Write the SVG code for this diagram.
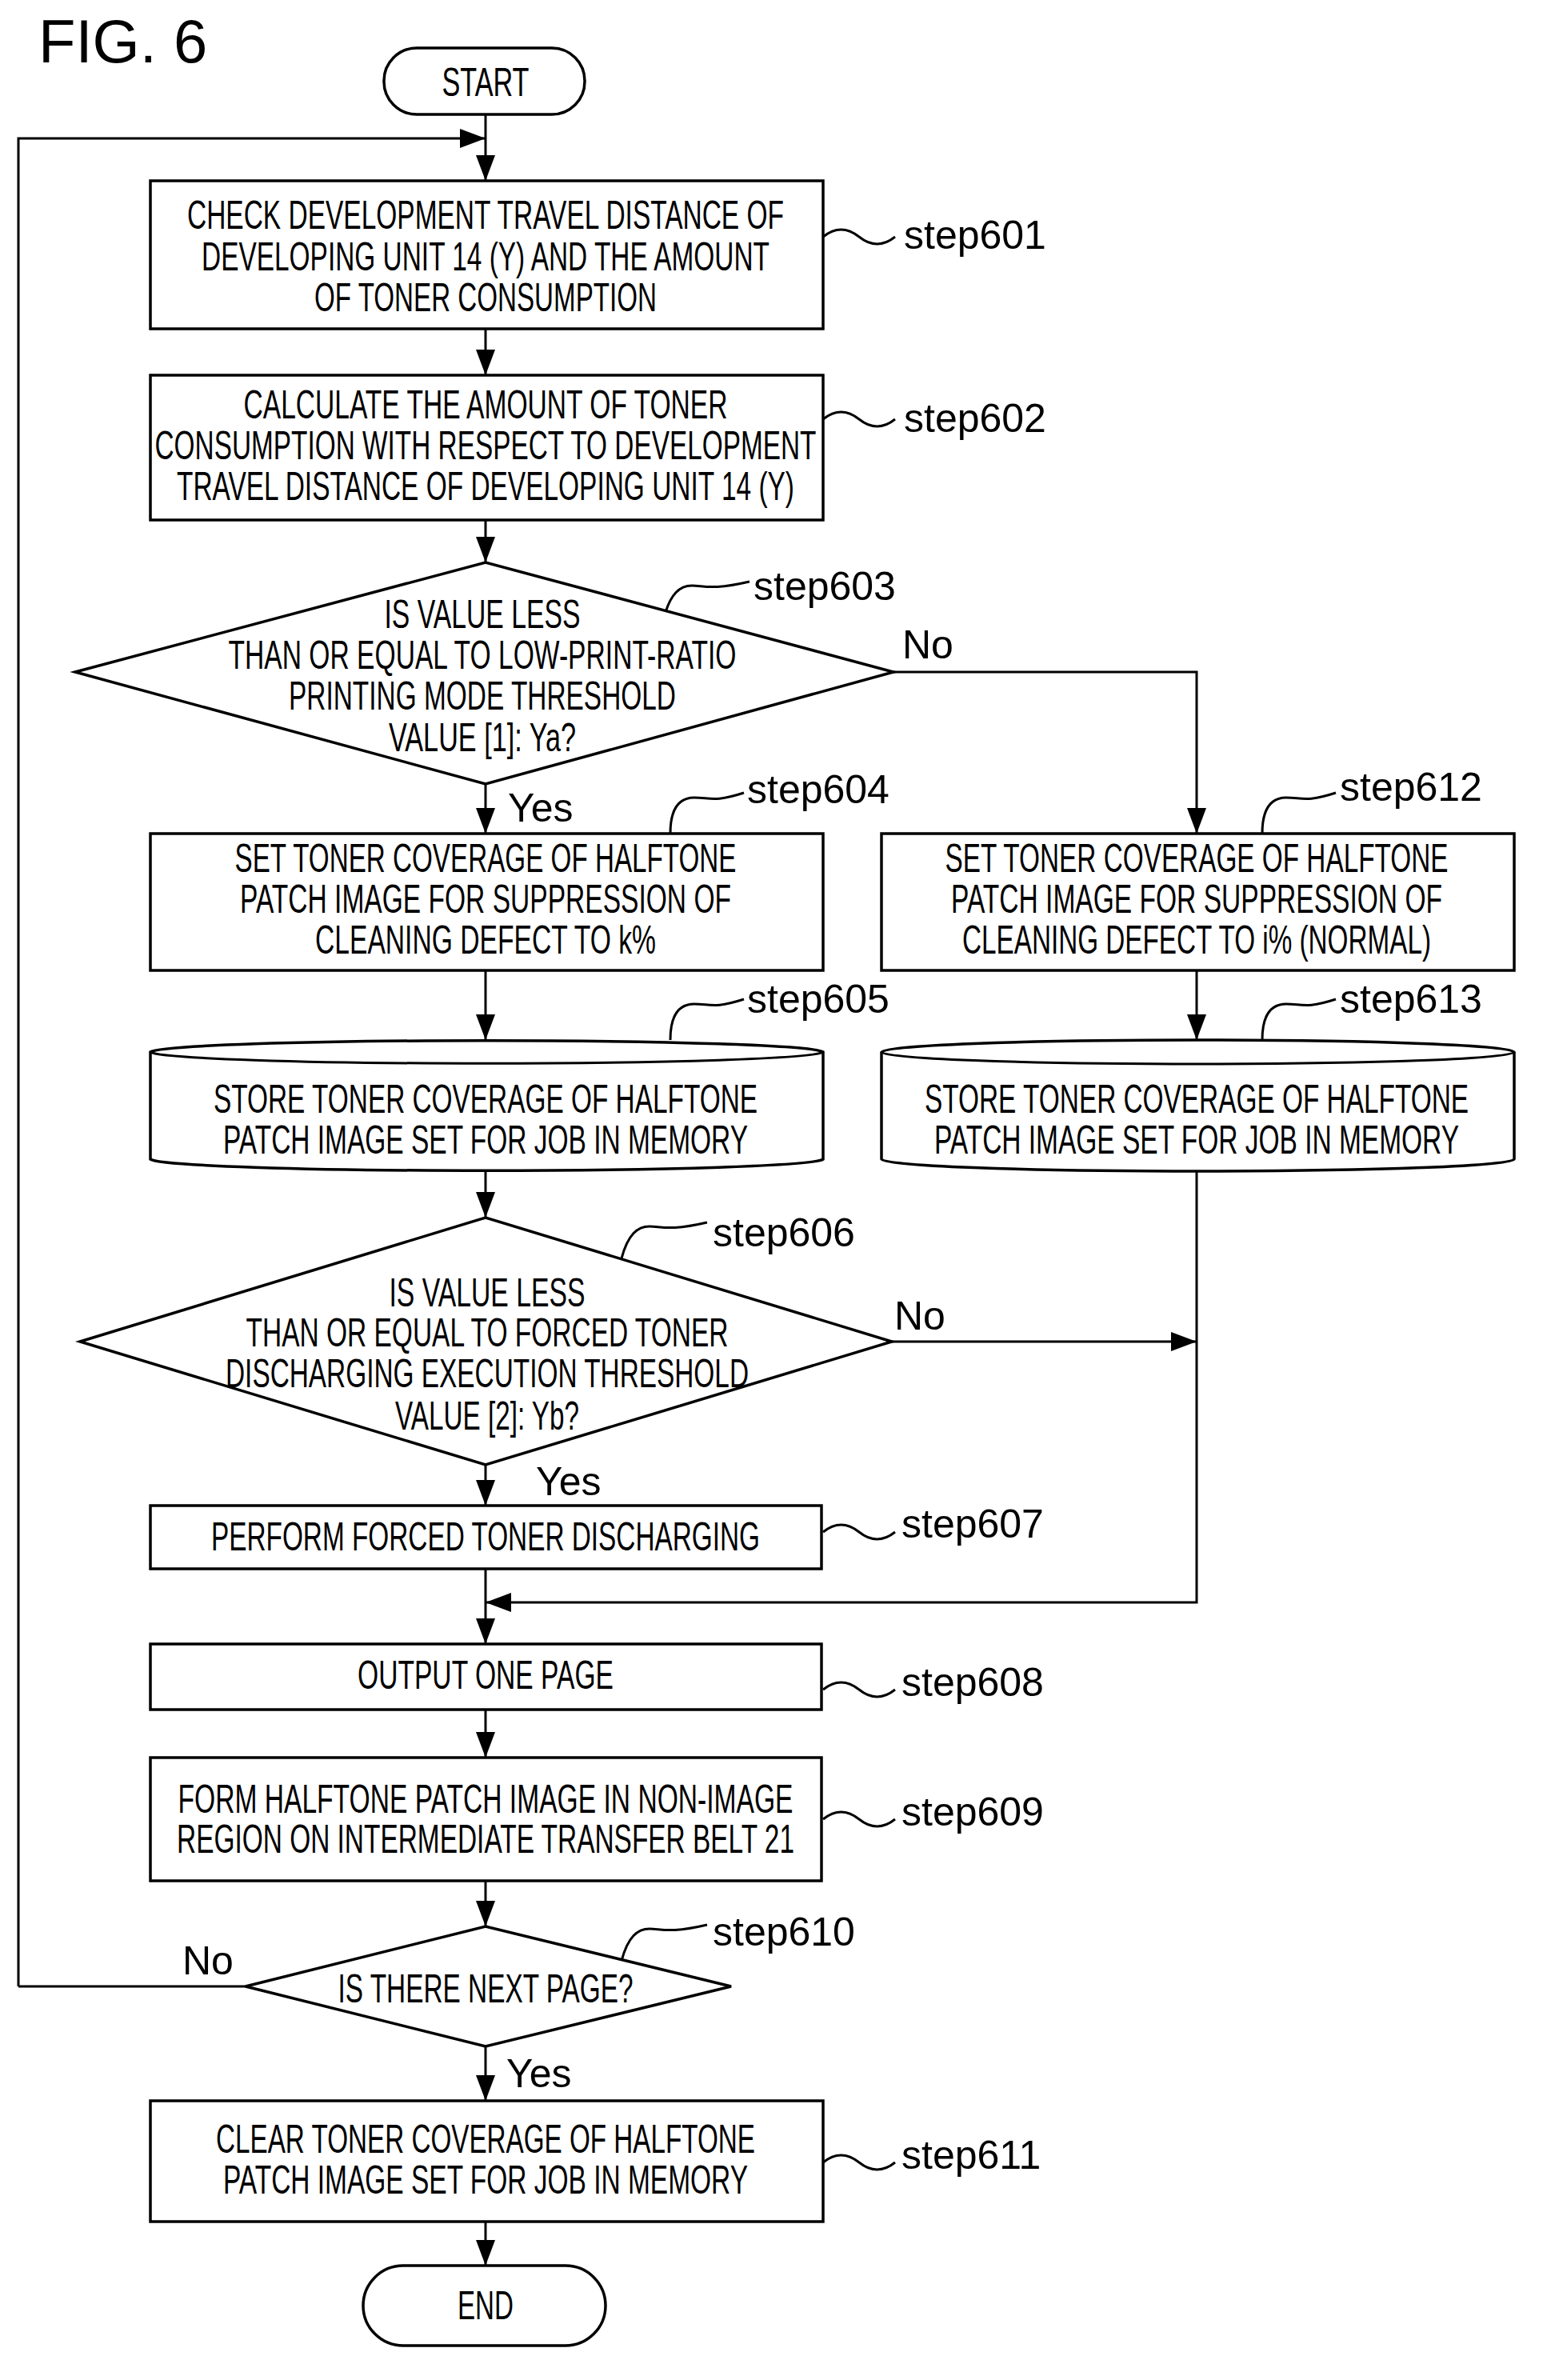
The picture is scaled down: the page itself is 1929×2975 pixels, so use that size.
<svg xmlns="http://www.w3.org/2000/svg" width="1929" height="2975" viewBox="0 0 1929 2975">
<style>
.s{fill:#fff;stroke:#000;stroke-width:3.5}
.c{fill:none;stroke:#000;stroke-width:3}
.t{font-family:"Liberation Sans",Arial,sans-serif;font-size:50px;text-anchor:middle;fill:#000}
.l{font-family:"Liberation Sans",Arial,sans-serif;font-size:50px;fill:#000}
</style>
<defs>
<marker id="a" markerWidth="10" markerHeight="10" refX="10" refY="5" orient="auto" markerUnits="userSpaceOnUse" viewBox="0 0 10 10"><path d="M0,0 L10,5 L0,10 z"/></marker>
<marker id="b" viewBox="0 0 10 10" refX="10" refY="5" markerWidth="32" markerHeight="24" orient="auto" markerUnits="userSpaceOnUse" preserveAspectRatio="none"><path d="M0,0 L10,5 L0,10 z"/></marker>
</defs>
<text x="48" y="78" class="l" style="font-size:76px">FIG. 6</text>
<g id="connectors" class="c">
<path d="M607,143 V226" marker-end="url(#b)"/>
<path d="M23,2483 V173 H607" marker-end="url(#b)"/>
<path d="M607,411 V469" marker-end="url(#b)"/>
<path d="M607,650 V703" marker-end="url(#b)"/>
<path d="M607,980 V1042" marker-end="url(#b)"/>
<path d="M1117,840 H1496 V1042" marker-end="url(#b)"/>
<path d="M607,1213 V1300" marker-end="url(#b)"/>
<path d="M1496,1213 V1300" marker-end="url(#b)"/>
<path d="M607,1464 V1522" marker-end="url(#b)"/>
<path d="M1115,1677 H1496" marker-end="url(#b)"/>
<path d="M1496,1464 V2003 H607" marker-end="url(#b)"/>
<path d="M607,1831 V1882" marker-end="url(#b)"/>
<path d="M607,1961 V2055" marker-end="url(#b)"/>
<path d="M607,2137 V2197" marker-end="url(#b)"/>
<path d="M607,2351 V2408" marker-end="url(#b)"/>
<path d="M307,2483 H23"/>
<path d="M607,2558 V2626" marker-end="url(#b)"/>
<path d="M607,2777 V2832" marker-end="url(#b)"/>
<path d="M1029,296 c15,-12 30,-12 45,0 s30,12 45,0"/>
<path d="M1029,524 c15,-12 30,-12 45,0 s30,12 45,0"/>
<path d="M1029,1915 c15,-12 30,-12 45,0 s30,12 45,0"/>
<path d="M1029,2112 c15,-12 30,-12 45,0 s30,12 45,0"/>
<path d="M1029,2274 c15,-12 30,-12 45,0 s30,12 45,0"/>
<path d="M1029,2703 c15,-12 30,-12 45,0 s30,12 45,0"/>
<path d="M830,772 c8,-30 20,-40 35,-40 s25,6 72,-5"/>
<path d="M838,1042 c0,-30 10,-45 30,-45 s25,6 62,-6"/>
<path d="M1578,1042 c0,-30 10,-45 30,-45 s25,6 62,-6"/>
<path d="M838,1300 c0,-30 10,-45 30,-45 s25,6 62,-6"/>
<path d="M1578,1300 c0,-30 10,-45 30,-45 s25,6 62,-6"/>
<path d="M777,1573 c8,-30 20,-40 35,-40 s25,6 72,-5"/>
<path d="M777,2451 c8,-30 20,-40 35,-40 s25,6 72,-5"/>
</g>
<g class="l">
<text x="1130" y="311">step601</text>
<text x="1130" y="540">step602</text>
<text x="942" y="750">step603</text>
<text x="934" y="1004">step604</text>
<text x="1675" y="1001">step612</text>
<text x="934" y="1266">step605</text>
<text x="1675" y="1266">step613</text>
<text x="891" y="1558">step606</text>
<text x="1127" y="1922">step607</text>
<text x="1127" y="2120">step608</text>
<text x="1127" y="2282">step609</text>
<text x="891" y="2432">step610</text>
<text x="1127" y="2711">step611</text>
<text x="1128" y="823">No</text>
<text x="635" y="1027">Yes</text>
<text x="1118" y="1662">No</text>
<text x="670" y="1869">Yes</text>
<text x="228" y="2468">No</text>
<text x="633" y="2609">Yes</text>
</g>
<g id="start"><rect class="s" x="480" y="60" width="251" height="83" rx="41"/><text class="t" x="607" y="120" textLength="109" lengthAdjust="spacingAndGlyphs">START</text></g>
<g id="step601"><rect class="s" x="188" y="226" width="841" height="185"/>
<text class="t" x="607" y="286" textLength="746" lengthAdjust="spacingAndGlyphs">CHECK DEVELOPMENT TRAVEL DISTANCE OF</text>
<text class="t" x="607" y="338" textLength="710" lengthAdjust="spacingAndGlyphs">DEVELOPING UNIT 14 (Y) AND THE AMOUNT</text>
<text class="t" x="607" y="389" textLength="428" lengthAdjust="spacingAndGlyphs">OF TONER CONSUMPTION</text></g>
<g id="step602"><rect class="s" x="188" y="469" width="841" height="181"/>
<text class="t" x="607" y="523" textLength="605" lengthAdjust="spacingAndGlyphs">CALCULATE THE AMOUNT OF TONER</text>
<text class="t" x="607" y="574" textLength="827" lengthAdjust="spacingAndGlyphs">CONSUMPTION WITH RESPECT TO DEVELOPMENT</text>
<text class="t" x="607" y="625" textLength="772" lengthAdjust="spacingAndGlyphs">TRAVEL DISTANCE OF DEVELOPING UNIT 14 (Y)</text></g>
<g id="step603"><path class="s" d="M94,840 L607,703 L1117,840 L607,980 Z"/>
<text class="t" x="603" y="785" textLength="245" lengthAdjust="spacingAndGlyphs">IS VALUE LESS</text>
<text class="t" x="603" y="836" textLength="635" lengthAdjust="spacingAndGlyphs">THAN OR EQUAL TO LOW-PRINT-RATIO</text>
<text class="t" x="603" y="887" textLength="484" lengthAdjust="spacingAndGlyphs">PRINTING MODE THRESHOLD</text>
<text class="t" x="603" y="939" textLength="234" lengthAdjust="spacingAndGlyphs">VALUE [1]: Ya?</text></g>
<g id="step604"><rect class="s" x="188" y="1042" width="841" height="171"/>
<text class="t" x="607" y="1090" textLength="627" lengthAdjust="spacingAndGlyphs">SET TONER COVERAGE OF HALFTONE</text>
<text class="t" x="607" y="1141" textLength="614" lengthAdjust="spacingAndGlyphs">PATCH IMAGE FOR SUPPRESSION OF</text>
<text class="t" x="607" y="1192" textLength="426" lengthAdjust="spacingAndGlyphs">CLEANING DEFECT TO k%</text></g>
<g id="step612"><rect class="s" x="1102" y="1042" width="791" height="171"/>
<text class="t" x="1496" y="1090" textLength="629" lengthAdjust="spacingAndGlyphs">SET TONER COVERAGE OF HALFTONE</text>
<text class="t" x="1496" y="1141" textLength="614" lengthAdjust="spacingAndGlyphs">PATCH IMAGE FOR SUPPRESSION OF</text>
<text class="t" x="1496" y="1192" textLength="586" lengthAdjust="spacingAndGlyphs">CLEANING DEFECT TO i% (NORMAL)</text></g>
<g id="step605"><path class="s" d="M188,1315 a421,15 0 0 1 841,0 v134 a421,15 0 0 1 -841,0 z"/><path class="c" d="M188,1315 a421,15 0 0 0 841,0"/>
<text class="t" x="607" y="1391" textLength="680" lengthAdjust="spacingAndGlyphs">STORE TONER COVERAGE OF HALFTONE</text>
<text class="t" x="607" y="1442" textLength="656" lengthAdjust="spacingAndGlyphs">PATCH IMAGE SET FOR JOB IN MEMORY</text></g>
<g id="step613"><path class="s" d="M1102,1315 a395,15 0 0 1 791,0 v134 a395,15 0 0 1 -791,0 z"/><path class="c" d="M1102,1315 a395,15 0 0 0 791,0"/>
<text class="t" x="1496" y="1391" textLength="680" lengthAdjust="spacingAndGlyphs">STORE TONER COVERAGE OF HALFTONE</text>
<text class="t" x="1496" y="1442" textLength="656" lengthAdjust="spacingAndGlyphs">PATCH IMAGE SET FOR JOB IN MEMORY</text></g>
<g id="step606"><path class="s" d="M100,1677 L607,1522 L1115,1677 L607,1831 Z"/>
<text class="t" x="609" y="1633" textLength="245" lengthAdjust="spacingAndGlyphs">IS VALUE LESS</text>
<text class="t" x="609" y="1683" textLength="603" lengthAdjust="spacingAndGlyphs">THAN OR EQUAL TO FORCED TONER</text>
<text class="t" x="609" y="1734" textLength="654" lengthAdjust="spacingAndGlyphs">DISCHARGING EXECUTION THRESHOLD</text>
<text class="t" x="609" y="1787" textLength="230" lengthAdjust="spacingAndGlyphs">VALUE [2]: Yb?</text></g>
<g id="step607"><rect class="s" x="188" y="1882" width="839" height="79"/>
<text class="t" x="607" y="1938" textLength="686" lengthAdjust="spacingAndGlyphs">PERFORM FORCED TONER DISCHARGING</text></g>
<g id="step608"><rect class="s" x="188" y="2055" width="839" height="82"/>
<text class="t" x="607" y="2111" textLength="320" lengthAdjust="spacingAndGlyphs">OUTPUT ONE PAGE</text></g>
<g id="step609"><rect class="s" x="188" y="2197" width="839" height="154"/>
<text class="t" x="607" y="2266" textLength="769" lengthAdjust="spacingAndGlyphs">FORM HALFTONE PATCH IMAGE IN NON-IMAGE</text>
<text class="t" x="607" y="2316" textLength="772" lengthAdjust="spacingAndGlyphs">REGION ON INTERMEDIATE TRANSFER BELT 21</text></g>
<g id="step610"><path class="s" d="M307,2483 L607,2408 L914,2483 L607,2558 Z"/>
<text class="t" x="607" y="2503" textLength="369" lengthAdjust="spacingAndGlyphs">IS THERE NEXT PAGE?</text></g>
<g id="step611"><rect class="s" x="188" y="2626" width="841" height="151"/>
<text class="t" x="607" y="2691" textLength="674" lengthAdjust="spacingAndGlyphs">CLEAR TONER COVERAGE OF HALFTONE</text>
<text class="t" x="607" y="2742" textLength="656" lengthAdjust="spacingAndGlyphs">PATCH IMAGE SET FOR JOB IN MEMORY</text></g>
<g id="end"><rect class="s" x="454" y="2832" width="303" height="100" rx="50"/><text class="t" x="607" y="2899" textLength="70" lengthAdjust="spacingAndGlyphs">END</text></g>
</svg>
